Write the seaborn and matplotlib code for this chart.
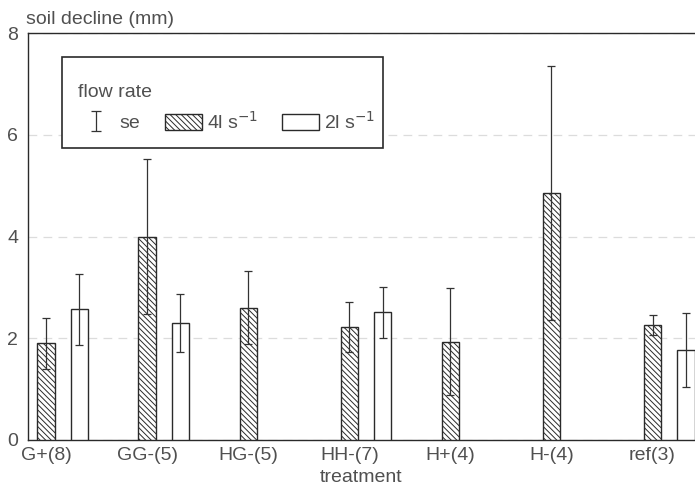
import numpy as np
import pandas as pd
import matplotlib
matplotlib.use("Agg")
import matplotlib.pyplot as plt
import seaborn as sns
from matplotlib.patches import Patch, Rectangle

# ---- data ----
treatments = ["G+(8)", "GG-(5)", "HG-(5)", "HH-(7)", "H+(4)", "H-(4)", "ref(3)"]
flow_levels = ["4", "2"]
decline_4 = [1.90, 4.00, 2.60, 2.22, 1.93, 4.85, 2.26]
se_4 = [0.50, 1.52, 0.72, 0.50, 1.05, 2.50, 0.20]
decline_2 = [2.57, 2.30, np.nan, 2.51, np.nan, np.nan, 1.77]
se_2 = [0.70, 0.57, np.nan, 0.50, np.nan, np.nan, 0.73]
y_ticks = [0, 2, 4, 6, 8]

rows = []
for t, v, s in zip(treatments, decline_4, se_4):
    rows.append({"treatment": t, "flow": "4", "decline": v, "se": s})
for t, v, s in zip(treatments, decline_2, se_2):
    rows.append({"treatment": t, "flow": "2", "decline": v, "se": s})
df = pd.DataFrame(rows).dropna()

sns.set_style("white")
plt.rcParams["font.family"] = ["Liberation Sans", "DejaVu Sans"]
plt.rcParams["hatch.linewidth"] = 0.7
plt.rcParams["hatch.color"] = "#333333"

txt = "#505050"
edge = "#2a2a2a"
fs = 14

fig = plt.figure(figsize=(6.95, 4.95), dpi=100)
ax = fig.add_axes([28 / 695, 55 / 495, 667 / 695, 407 / 495])

sns.barplot(data=df, x="treatment", y="decline", hue="flow",
            order=treatments, hue_order=flow_levels,
            palette={"4": "white", "2": "white"},
            width=0.66, gap=0.48, edgecolor=edge, linewidth=1.0,
            errorbar=None, legend=False, ax=ax, zorder=3)

# hatch the 4 l/s bars and add the standard-error bars
for lvl, cont in zip(flow_levels, ax.containers):
    sub = df[df["flow"] == lvl].copy()
    sub["pos"] = sub["treatment"].map({t: i for i, t in enumerate(treatments)})
    sub = sub.sort_values("pos")
    xs, hs = [], []
    for p in cont.patches:
        if lvl == "4":
            p.set_hatch("\\\\\\\\\\\\")
        xs.append(p.get_x() + p.get_width() / 2)
        hs.append(p.get_height())
    ax.errorbar(xs, hs, yerr=sub["se"].values, fmt="none", ecolor="#333333",
                elinewidth=0.9, capsize=2.8, capthick=0.9, zorder=4)

# ticks under the 4 l/s bars
tick_pos = [p.get_x() + p.get_width() / 2 for p in ax.containers[0].patches]
ax.set_xticks(tick_pos)
ax.set_xticklabels(treatments)

ax.set_ylim(0, 8)
ax.set_yticks(y_ticks)
ax.set_yticklabels([str(v) for v in y_ticks])
ax.tick_params(axis="both", length=0, labelsize=fs, labelcolor=txt)
ax.tick_params(axis="y", pad=7)
ax.tick_params(axis="x", pad=5)

ax.yaxis.grid(True, linestyle=(0, (7, 5)), color="#dcdcdc", linewidth=0.9, zorder=0)
ax.set_axisbelow(True)

for s in ["left", "bottom", "top"]:
    ax.spines[s].set_visible(True)
    ax.spines[s].set_color(edge)
    ax.spines[s].set_linewidth(1.0)
ax.spines["right"].set_visible(False)

ax.set_xlabel("treatment", fontsize=fs, color=txt, labelpad=4)
ax.set_ylabel("")
fig.text(26 / 695, 1 - 19 / 495, "soil decline (mm)", fontsize=fs, color=txt,
         ha="left", va="center")

# legend box
ax.add_patch(Rectangle((0.051, 0.717), 0.481, 0.2236, transform=ax.transAxes,
                       facecolor="white", edgecolor=edge, linewidth=1.2,
                       zorder=5))

# legend (error-bar key drawn outside the visible x-range)
err_handle = ax.errorbar([-5], [1], yerr=[0.5], fmt="none", ecolor="#333333",
                         elinewidth=0.9, capsize=3.5, capthick=0.9)
h4 = Patch(facecolor="white", edgecolor=edge, hatch="\\\\\\\\\\\\", linewidth=1.0)
h2 = Patch(facecolor="white", edgecolor=edge, linewidth=1.0)
leg = ax.legend([err_handle, h4, h2], ["se", r"4l s$^{-1}$", r"2l s$^{-1}$"],
                title="flow rate", ncol=3, loc="upper left",
                bbox_to_anchor=(0.075, 0.875), borderaxespad=0, borderpad=0,
                fontsize=fs, title_fontsize=fs, frameon=False,
                handlelength=1.9, handleheight=0.9, columnspacing=1.25,
                handletextpad=0.25, alignment="left", labelcolor=txt)
leg.set_zorder(6)
leg.get_title().set_color(txt)
ax.set_xlim(-0.343, 6.255)

fig.savefig("out.png", dpi=100)
